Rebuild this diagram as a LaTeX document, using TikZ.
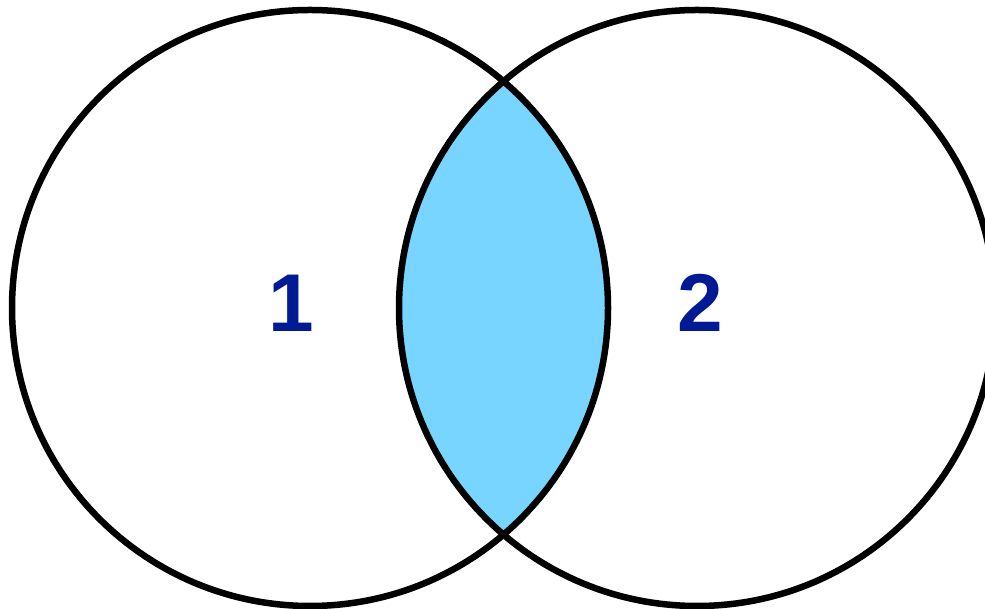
\documentclass[tikz,border=0pt]{standalone}
\usepackage{fontspec}
\setmainfont{Liberation Sans}
\usepackage{tikz}
\definecolor{lensblue}{RGB}{119,213,255}
\definecolor{numblue}{RGB}{0,26,148}
\tikzset{setline/.style={line width=6.5pt},
  setnum/.style={text=numblue,font=\fontsize{82}{82}\selectfont\bfseries,anchor=base,inner sep=0pt}}

\begin{document}
\begin{tikzpicture}[x=1pt,y=1pt,line join=round]
\useasboundingbox (0,0) rectangle (985,609);
% --- centres of the two sets
\coordinate (c1) at (310,301);
\coordinate (c2) at (697,301);
% --- shaded intersection
\begin{scope}
\clip (c1) circle[radius=298];
\fill[lensblue] (c2) circle[radius=298];
\end{scope}
\draw[setline] (c1) circle[radius=298];
\draw[setline] (c2) circle[radius=298];
\node[setnum] (n1) at (291,277) {1};
\node[setnum] (n2) at (700,277) {2};
\end{tikzpicture}
\end{document}
